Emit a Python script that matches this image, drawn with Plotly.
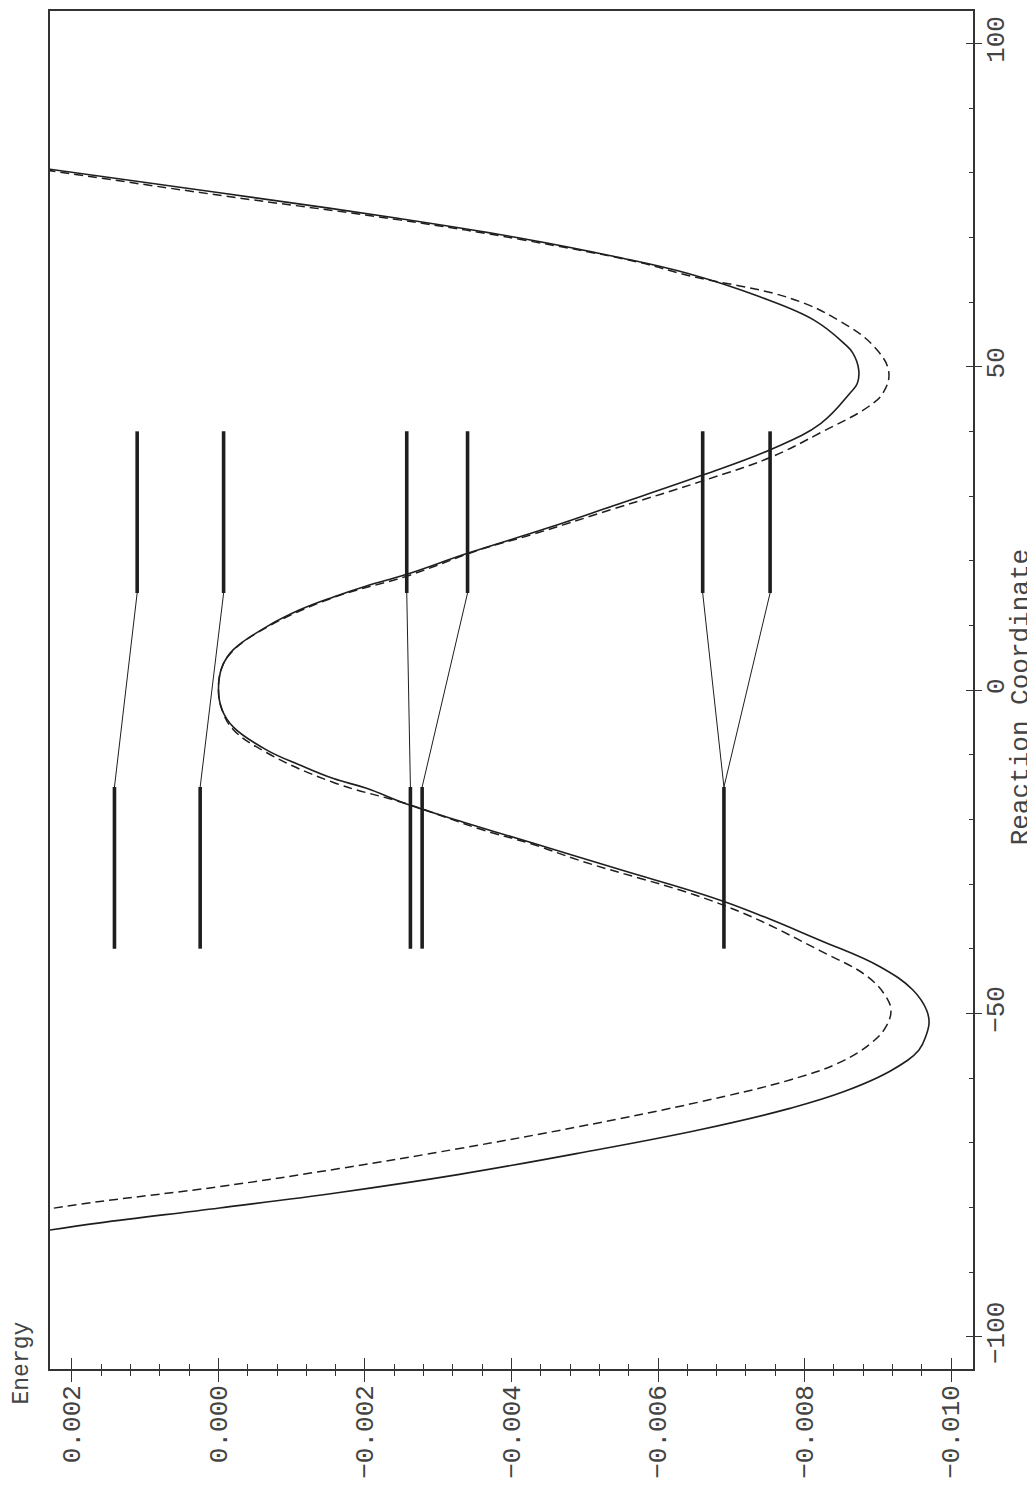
import plotly.graph_objects as go

# ---------------- data ----------------
# solid curve: reaction coordinate (s) and energy
s_solid = [80.6, 76.9, 72.9, 69.9, 67.0, 64.4, 60.8, 57.2, 53.6, 52.1,
           49.5, 47.4, 45.9, 41.2, 37.2, 33.2, 28.5, 25.0, 21.1, 17.9,
           16.1, 14.4, 12.4, 9.8, 6.2, 3.6, 0.0, -3.1, -5.7, -9.3,
           -11.6, -13.7, -15.2, -17.8, -20.6, -23.7, -27.8, -32.7, -38.7, -42.8,
           -46.4, -49.6, -51.5, -53.4, -55.7, -58.8, -62.1, -64.7, -68.0, -71.6,
           -74.9, -77.7, -80.1, -82.4, -83.6]
e_solid = [0.00235, -0.000015, -0.00247, -0.00411, -0.00542, -0.00641, -0.00739, -0.00813, -0.00854, -0.00866,
           -0.00874, -0.00872, -0.00862, -0.00822, -0.00754, -0.00660, -0.00539, -0.00448, -0.00339, -0.00257,
           -0.00202, -0.00157, -0.00111, -0.00066, -0.00020, -0.00005, 0.00000, -0.00005, -0.00020, -0.00066,
           -0.00111, -0.00157, -0.00202, -0.00261, -0.00339, -0.00430, -0.00549, -0.00690, -0.00821, -0.00903,
           -0.00948, -0.00967, -0.00970, -0.00966, -0.00956, -0.00919, -0.00854, -0.00780, -0.00657, -0.00493,
           -0.00329, -0.00165, -0.000015, 0.00162, 0.00235]

# dashed curve
s_dashed = [80.4, 76.5, 72.7, 69.7, 66.1, 64.1, 60.6, 57.2, 53.1, 49.2,
            45.9, 43.8, 39.8, 36.0, 32.3, 28.0, 24.1, 21.7, 17.6, 14.3,
            9.7, 6.1, 3.6, 0.0, -3.1, -6.1, -9.7, -14.3, -17.6, -21.5,
            -23.9, -26.4, -33.3, -40.3, -44.4, -47.4, -49.5, -52.1, -54.6, -57.7,
            -60.3, -63.7, -67.5, -70.9, -74.0, -76.8, -79.1, -80.3]
e_dashed = [0.00235, -0.000015, -0.00247, -0.00411, -0.00575, -0.00641, -0.00780, -0.00846, -0.00895, -0.00915,
            -0.00907, -0.00887, -0.00822, -0.00754, -0.00660, -0.00539, -0.00430, -0.00357, -0.00257, -0.00157,
            -0.00066, -0.00020, -0.00005, 0.00000, -0.00005, -0.00020, -0.00066, -0.00157, -0.00257, -0.00357,
            -0.00430, -0.00494, -0.00690, -0.00821, -0.00887, -0.00911, -0.00918, -0.00911, -0.00891, -0.00846,
            -0.00780, -0.00657, -0.00493, -0.00329, -0.00165, -0.000015, 0.00162, 0.00235]

# energy levels (thick bars) and their span along the reaction coordinate
levels_upper = [0.00111, -0.00007, -0.00257, -0.00340, -0.00661, -0.00753]
levels_lower = [0.00142, 0.00025, -0.00262, -0.00278, -0.00690]
span_upper = [15, 40]
span_lower = [-40, -15]
# correlation lines: (upper index, lower index)
links = [(0, 0), (1, 1), (2, 2), (3, 3), (4, 4), (5, 4)]

# axis ticks
e_ticks = [0.002, 0.000, -0.002, -0.004, -0.006, -0.008, -0.010]
e_tick_text = ["0.002", "0.000", "\u22120.002", "\u22120.004", "\u22120.006", "\u22120.008", "\u22120.010"]
s_ticks = [-100, -50, 0, 50, 100]
s_tick_text = ["\u2212100", "\u221250", "0", "50", "100"]

# ---------------- styling ----------------
INK = "#1e1e1e"
AX = "#333333"
TXT = "#444444"
FONT = "Liberation Mono, DejaVu Sans Mono, monospace"

fig = go.Figure()

fig.add_trace(go.Scatter(x=e_solid, y=s_solid, mode="lines",
                         line=dict(color=INK, width=1.6, shape="spline", smoothing=1.15),
                         hoverinfo="skip", showlegend=False))
fig.add_trace(go.Scatter(x=e_dashed, y=s_dashed, mode="lines",
                         line=dict(color=INK, width=1.5, dash="9px,5px", shape="spline", smoothing=1.15),
                         hoverinfo="skip", showlegend=False))

# thick level bars
bx, by = [], []
for e in levels_upper:
    bx += [e, e, None]
    by += [span_upper[0], span_upper[1], None]
for e in levels_lower:
    bx += [e, e, None]
    by += [span_lower[0], span_lower[1], None]
fig.add_trace(go.Scatter(x=bx, y=by, mode="lines", line=dict(color=INK, width=3.6),
                         hoverinfo="skip", showlegend=False))

# thin correlation lines
lx, ly = [], []
for iu, il in links:
    lx += [levels_upper[iu], levels_lower[il], None]
    ly += [span_upper[0], span_lower[1], None]
fig.add_trace(go.Scatter(x=lx, y=ly, mode="lines", line=dict(color=INK, width=1.0),
                         hoverinfo="skip", showlegend=False))

# invisible helper trace to activate the inside-tick overlay axes
fig.add_trace(go.Scatter(x=e_solid[:1], y=s_solid[:1], mode="markers", xaxis="x2", yaxis="y2",
                         marker=dict(opacity=0), hoverinfo="skip", showlegend=False))

x_range = [0.0023, -0.0103]
y_range = [-105, 105]
tick_font = dict(family=FONT, size=26, color=TXT)

fig.update_layout(
    width=1027, height=1480,
    margin=dict(l=42, r=62, t=3, b=119, autoexpand=False),
    paper_bgcolor="white", plot_bgcolor="white",
    showlegend=False,
    xaxis=dict(range=x_range, tickmode="array", tickvals=e_ticks, ticktext=e_tick_text,
               tickangle=-90, ticks="outside", ticklen=11, tickwidth=1.2, tickcolor=AX,
               ticklabelstandoff=-7,
               showline=True, linecolor=AX, linewidth=1.5, mirror=True,
               showgrid=False, zeroline=False, tickfont=tick_font,
               minor=dict(tickmode="linear", tick0=0, dtick=0.0004, ticks="outside",
                          ticklen=5.5, tickwidth=1.0, tickcolor=AX, showgrid=False)),
    xaxis2=dict(range=x_range, overlaying="x", anchor="y2", side="bottom",
                tickmode="array", tickvals=e_ticks, ticks="inside", ticklen=11, tickwidth=1.2,
                tickcolor=AX, showticklabels=False, showline=False, showgrid=False, zeroline=False,
                minor=dict(tickmode="linear", tick0=0, dtick=0.0004, ticks="inside",
                           ticklen=5.5, tickwidth=1.0, tickcolor=AX, showgrid=False)),
    yaxis=dict(range=y_range, side="right", tickmode="array", tickvals=s_ticks, ticktext=s_tick_text,
               tickangle=-90, ticks="outside", ticklen=7.5, tickwidth=1.2, tickcolor=AX,
               ticklabelstandoff=-9,
               showline=True, linecolor=AX, linewidth=1.5, mirror=True,
               showgrid=False, zeroline=False, tickfont=tick_font),
    yaxis2=dict(range=y_range, overlaying="y", anchor="x2", side="right",
                tickmode="array", tickvals=s_ticks, ticks="inside", ticklen=7.5, tickwidth=1.2,
                tickcolor=AX, showticklabels=False, showline=False, showgrid=False, zeroline=False,
                minor=dict(tickmode="linear", tick0=0, dtick=10, ticks="inside",
                           ticklen=4.5, tickwidth=1.0, tickcolor=AX, showgrid=False)),
    annotations=[
        dict(text="Energy", xref="paper", yref="paper", x=-0.0298, y=0.0044,
             xanchor="center", yanchor="middle", textangle=-90, showarrow=False,
             font=dict(family=FONT, size=23, color=TXT)),
        dict(text="Reaction Coordinate", xref="paper", yref="paper", x=1.0523, y=0.4948,
             xanchor="center", yanchor="middle", textangle=-90, showarrow=False,
             font=dict(family=FONT, size=26, color=TXT)),
    ],
)

fig.write_html("out.html")
